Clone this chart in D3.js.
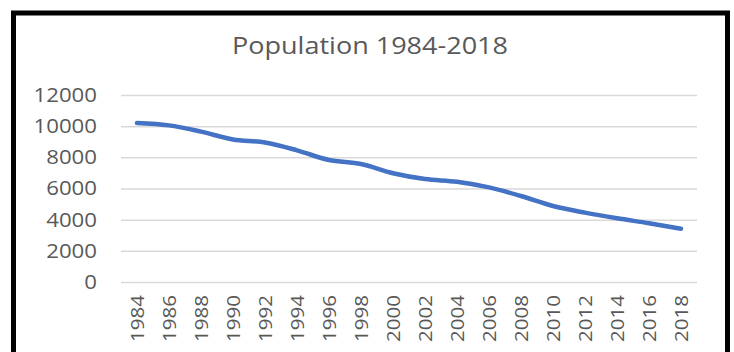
<!DOCTYPE html>
<html>
<head>
<meta charset="utf-8">
<script src="https://cdn.jsdelivr.net/npm/d3@7"></script>
<style>
  html, body { margin: 0; padding: 0; background: #fff; }
  svg { display: block; }
  text { font-family: "Open Sans", "Noto Sans", sans-serif; fill: #595959; }
</style>
</head>
<body>
<div id="chart"></div>
<script>
// Population 1984-2018, line chart (smoothed)
const years = ['1984', '1986', '1988', '1990', '1992', '1994', '1996', '1998', '2000',
    '2002', '2004', '2006', '2008', '2010', '2012', '2014', '2016', '2018'];
const population = [10200, 10050, 9650, 9150, 8950, 8450, 7830, 7570, 6980,
    6610, 6430, 6070, 5520, 4880, 4450, 4090, 3770, 3420];
const yTicks = [0, 2000, 4000, 6000, 8000, 10000, 12000];
const title = 'Population 1984-2018';

const W = 734, H = 352;
const margin = { top: 95, right: 37, bottom: 70, left: 121 };

const svg = d3.select('#chart').append('svg')
    .attr('width', W)
    .attr('height', H);

// outer black frame
svg.append('rect')
    .attr('x', 13.5).attr('y', 13)
    .attr('width', 714).attr('height', 400)
    .attr('fill', '#fff')
    .attr('stroke', '#000')
    .attr('stroke-width', 5);

const x = d3.scaleBand()
    .domain(years)
    .range([margin.left, W - margin.right]);

const y = d3.scaleLinear()
    .domain([0, 12000])
    .range([H - margin.bottom, margin.top]);

// title (the original font is a bit wider than Open Sans, so stretch it)
svg.append('text')
    .attr('x', 370)
    .attr('y', 54)
    .attr('text-anchor', 'middle')
    .attr('textLength', 276)
    .attr('lengthAdjust', 'spacingAndGlyphs')
    .style('font-size', '24px')
    .text(title);

// gridlines + y labels
const yAxis = svg.append('g')
    .attr('transform', `translate(${margin.left},0)`)
    .call(d3.axisLeft(y).tickValues(yTicks)
        .tickSize(-(W - margin.left - margin.right))
        .tickPadding(24)
        .tickFormat(d3.format('d')));
yAxis.select('.domain').remove();
yAxis.selectAll('.tick line').attr('stroke', '#d9d9d9').attr('stroke-width', 1.5);
yAxis.selectAll('.tick text')
    .attr('fill', '#595959')
    .style('font-size', '20px')
    .attr('textLength', d => String(d).length * 12.7)
    .attr('lengthAdjust', 'spacingAndGlyphs');

// x labels (rotated)
const xAxis = svg.append('g')
    .attr('transform', `translate(0,${y(0)})`)
    .call(d3.axisBottom(x).tickSize(0).tickPadding(0));
xAxis.select('.domain').remove();
xAxis.selectAll('.tick text')
    .attr('fill', '#595959')
    .style('font-size', '19px')
    .attr('text-anchor', 'end')
    .attr('dy', '0.35em')
    .attr('transform', 'translate(0,13) rotate(-90)')
    .attr('x', 0).attr('y', 0)
    .attr('textLength', 47)
    .attr('lengthAdjust', 'spacingAndGlyphs');

// line
const line = d3.line()
    .x((d, i) => x(years[i]) + x.bandwidth() / 2)
    .y(d => y(d))
    .curve(d3.curveCatmullRom.alpha(0.5));

svg.append('path')
    .datum(population)
    .attr('fill', 'none')
    .attr('stroke', '#4472c4')
    .attr('stroke-width', 4.5)
    .attr('stroke-linecap', 'round')
    .attr('d', line);
</script>
</body>
</html>
